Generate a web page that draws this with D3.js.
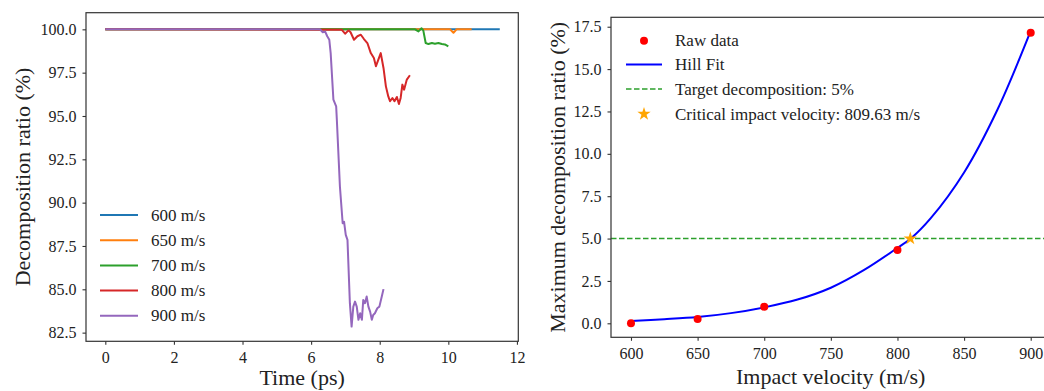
<!DOCTYPE html>
<html>
<head>
<meta charset="utf-8">
<script src="https://cdn.jsdelivr.net/npm/d3@7"></script>
<style>
  body { margin: 0; background: #fff; }
  svg { display: block; }
  text { font-family: "Liberation Serif", "Times New Roman", serif; fill: #222; }
</style>
</head>
<body>
<div class="container"></div>
<script>
// left panel: decomposition ratio vs time for each impact velocity
const seriesNames = ['600 m/s', '650 m/s', '700 m/s', '800 m/s', '900 m/s'];
const seriesColors = ['#1f77b4', '#ff7f0e', '#2ca02c', '#d62728', '#9467bd'];

const time600 = [0, 11.5];
const ratio600 = [100, 100];

const time650 = [0, 10.05, 10.15, 10.24, 10.68];
const ratio650 = [100, 100, 99.8, 100, 100];

const time700 = [0, 9.03, 9.13, 9.22, 9.27, 9.34, 9.42, 9.52, 9.61, 9.71, 9.81, 9.90, 10.0];
const ratio700 = [100, 100, 99.88, 100.06, 99.94, 99.21, 99.15, 99.21, 99.17, 99.21, 99.15, 99.13, 99.02];

const time800 = [0, 6.89, 6.99, 7.09, 7.15, 7.25, 7.35, 7.45, 7.54, 7.64, 7.74, 7.83, 7.89, 7.96, 8.03, 8.11, 8.18, 8.25, 8.30, 8.37, 8.43, 8.50, 8.56, 8.61, 8.66, 8.71, 8.79, 8.88];
const ratio800 = [100, 99.98, 99.75, 99.94, 99.83, 99.40, 99.60, 99.69, 99.44, 99.21, 98.63, 98.35, 97.87, 98.25, 98.63, 97.77, 96.71, 96.13, 95.85, 96.04, 95.85, 96.10, 95.69, 96.04, 96.81, 96.52, 97.10, 97.35];

const time900 = [0, 6.21, 6.26, 6.34, 6.41, 6.47, 6.53, 6.57, 6.65, 6.73, 6.75, 6.84, 6.92, 6.96, 7.01, 7.06, 7.13, 7.18, 7.23, 7.28, 7.33, 7.38, 7.43, 7.48, 7.52, 7.57, 7.62, 7.67, 7.72, 7.77, 7.81, 7.86, 7.93, 7.99, 8.06, 8.11];
const ratio900 = [100, 100, 100, 99.83, 99.87, 99.60, 99.40, 98.63, 95.94, 95.56, 94.78, 90.92, 88.81, 88.90, 88.14, 87.85, 84.20, 82.85, 84.00, 84.29, 84.00, 83.24, 83.62, 83.24, 84.39, 84.20, 84.58, 84.00, 83.71, 83.24, 83.52, 83.62, 83.91, 84.00, 84.58, 85.01];

const timeTicks = [0, 2, 4, 6, 8, 10, 12];
const ratioTicks = [82.5, 85.0, 87.5, 90.0, 92.5, 95.0, 97.5, 100.0];

// right panel: max decomposition vs impact velocity
const rawVelocity = [600, 650, 700, 800, 900];
const rawMaxRatio = [0.0, 0.25, 0.98, 4.32, 17.15];

// Hill fit curve
const fitVelocity = [600, 625, 650, 675, 700, 725, 750, 775, 800, 810, 825, 850, 875, 900];
const fitMaxRatio = [0.14, 0.24, 0.37, 0.6, 0.94, 1.4, 2.1, 3.15, 4.45, 5.0, 6.2, 8.9, 12.6, 17.25];

const targetRatio = 5;
const criticalVelocity = 809.63;

const velocityTicks = [600, 650, 700, 750, 800, 850, 900];
const maxRatioTicks = [0.0, 2.5, 5.0, 7.5, 10.0, 12.5, 15.0, 17.5];

const allTimes = [time600, time650, time700, time800, time900];
const allRatios = [ratio600, ratio650, ratio700, ratio800, ratio900];

const W = 1044, H = 391;
const svg = d3.select('.container')
  .append('svg')
  .attr('width', W)
  .attr('height', H);

function styleAxis(g) {
  g.select('.domain').remove();
  g.selectAll('.tick line').attr('stroke', '#333').attr('stroke-width', 1.1);
  g.selectAll('.tick text').style('font-size', '16px').attr('fill', '#222');
}

function drawLeft() {
  const x0 = 86, x1 = 518.3, y0 = 12.7, y1 = 341.3;
  const xScale = d3.scaleLinear().domain([-0.563, 12.04]).range([x0, x1]);
  const yScale = d3.scaleLinear().domain([82.0, 100.96]).range([y1, y0]);

  svg.append('g')
    .attr('transform', 'translate(0,' + y1 + ')')
    .call(d3.axisBottom(xScale).tickValues(timeTicks).tickFormat(d3.format('d')).tickSize(3.5).tickPadding(7))
    .call(styleAxis);

  svg.append('g')
    .attr('transform', 'translate(' + x0 + ',0)')
    .call(d3.axisLeft(yScale).tickValues(ratioTicks).tickFormat(d3.format('.1f')).tickSize(3.5).tickPadding(6))
    .call(styleAxis);

  const line = d3.line()
    .x(function(d){ return xScale(d[0]); })
    .y(function(d){ return yScale(d[1]); });

  seriesNames.forEach(function(name, i) {
    const pts = allTimes[i].map(function(t, j){ return [t, allRatios[i][j]]; });
    svg.append('path')
      .datum(pts)
      .attr('fill', 'none')
      .attr('stroke', seriesColors[i])
      .attr('stroke-width', 2)
      .attr('stroke-linejoin', 'round')
      .attr('d', line);
  });

  svg.append('rect')
    .attr('x', x0).attr('y', y0)
    .attr('width', x1 - x0).attr('height', y1 - y0)
    .attr('fill', 'none').attr('stroke', '#333').attr('stroke-width', 1.2);

  // legend
  const leg = svg.append('g');
  seriesNames.forEach(function(name, i) {
    const ly = 215 + i * 25.2;
    leg.append('line')
      .attr('x1', 100).attr('x2', 138).attr('y1', ly).attr('y2', ly)
      .attr('stroke', seriesColors[i]).attr('stroke-width', 2);
    leg.append('text')
      .attr('x', 151).attr('y', ly).attr('dy', '0.33em')
      .style('font-size', '17px')
      .text(name);
  });

  svg.append('text')
    .attr('x', (x0 + x1) / 2).attr('y', 377).attr('dy', '0.35em')
    .attr('text-anchor', 'middle')
    .style('font-size', '22px')
    .text('Time (ps)');

  svg.append('text')
    .attr('transform', 'translate(22,' + ((y0 + y1) / 2) + ') rotate(-90)')
    .attr('dy', '0.35em')
    .attr('text-anchor', 'middle')
    .style('font-size', '22px')
    .text('Decomposition ratio (%)');
}

function drawRight() {
  const x0 = 611, x1 = 1050.7, y0 = 17.3, y1 = 337.3;
  const xScale = d3.scaleLinear().domain([585, 915]).range([x0, x1]);
  const yScale = d3.scaleLinear().domain([-0.826, 18.056]).range([y1, y0]);

  svg.append('g')
    .attr('transform', 'translate(0,' + y1 + ')')
    .call(d3.axisBottom(xScale).tickValues(velocityTicks).tickFormat(d3.format('d')).tickSize(3.5).tickPadding(7))
    .call(styleAxis);

  svg.append('g')
    .attr('transform', 'translate(' + x0 + ',0)')
    .call(d3.axisLeft(yScale).tickValues(maxRatioTicks).tickFormat(d3.format('.1f')).tickSize(3.5).tickPadding(6))
    .call(styleAxis);

  // target line
  svg.append('line')
    .attr('x1', x0).attr('x2', x1)
    .attr('y1', yScale(targetRatio)).attr('y2', yScale(targetRatio))
    .attr('stroke', '#2ca02c').attr('stroke-width', 1.5)
    .attr('stroke-dasharray', '5.5,2.5');

  const fitPts = fitVelocity.map(function(v, j){ return [v, fitMaxRatio[j]]; });
  svg.append('path')
    .datum(fitPts)
    .attr('fill', 'none')
    .attr('stroke', '#0000ff')
    .attr('stroke-width', 2)
    .attr('d', d3.line()
      .curve(d3.curveCatmullRom)
      .x(function(d){ return xScale(d[0]); })
      .y(function(d){ return yScale(d[1]); }));

  svg.selectAll('.raw')
    .data(rawVelocity)
    .enter()
    .append('circle')
    .attr('class', 'raw')
    .attr('cx', function(d){ return xScale(d); })
    .attr('cy', function(d, i){ return yScale(rawMaxRatio[i]); })
    .attr('r', 4)
    .attr('fill', '#ff0000');

  svg.append('path')
    .attr('d', d3.symbol().type(d3.symbolStar).size(55)())
    .attr('transform', 'translate(' + xScale(criticalVelocity) + ',' + yScale(targetRatio) + ')')
    .attr('fill', '#ffa500');

  svg.append('rect')
    .attr('x', x0).attr('y', y0)
    .attr('width', x1 - x0).attr('height', y1 - y0)
    .attr('fill', 'none').attr('stroke', '#333').attr('stroke-width', 1.2);

  // legend
  const leg = svg.append('g');
  leg.append('circle').attr('cx', 644).attr('cy', 40.7).attr('r', 4).attr('fill', '#ff0000');
  leg.append('line').attr('x1', 626).attr('x2', 662).attr('y1', 64.5).attr('y2', 64.5)
    .attr('stroke', '#0000ff').attr('stroke-width', 2);
  leg.append('line').attr('x1', 626).attr('x2', 662).attr('y1', 89).attr('y2', 89)
    .attr('stroke', '#2ca02c').attr('stroke-width', 1.5).attr('stroke-dasharray', '5.5,2.5');
  leg.append('path')
    .attr('d', d3.symbol().type(d3.symbolStar).size(55)())
    .attr('transform', 'translate(644,114)')
    .attr('fill', '#ffa500');

  const legText = ['Raw data', 'Hill Fit', 'Target decomposition: ' + targetRatio + '%', 'Critical impact velocity: ' + criticalVelocity + ' m/s'];
  const legY = [40.7, 64.5, 89, 114];
  legText.forEach(function(t, i) {
    leg.append('text')
      .attr('x', 675).attr('y', legY[i]).attr('dy', '0.33em')
      .style('font-size', '17px')
      .text(t);
  });

  svg.append('text')
    .attr('x', 830.7).attr('y', 376).attr('dy', '0.35em')
    .attr('text-anchor', 'middle')
    .style('font-size', '22px')
    .text('Impact velocity (m/s)');

  svg.append('text')
    .attr('transform', 'translate(557,' + ((y0 + y1) / 2) + ') rotate(-90)')
    .attr('dy', '0.35em')
    .attr('text-anchor', 'middle')
    .style('font-size', '22px')
    .text('Maximum decomposition ratio (%)');
}

drawLeft();
drawRight();
</script>
</body>
</html>
